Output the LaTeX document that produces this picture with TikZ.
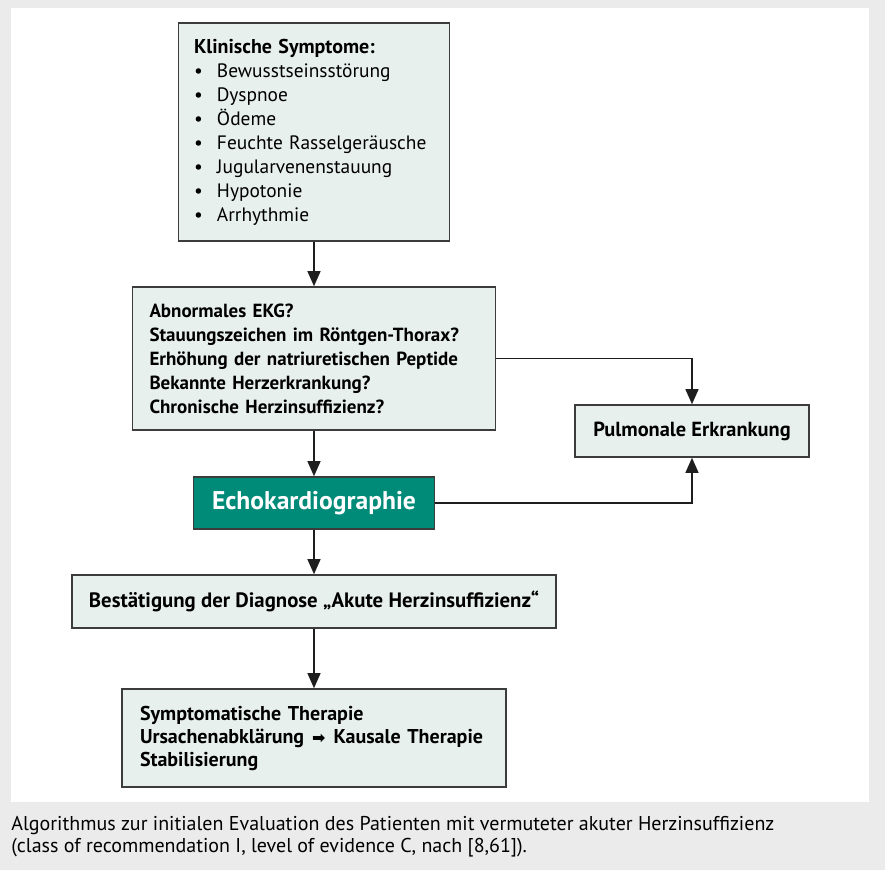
\documentclass[tikz,border=0pt]{standalone}
\usepackage{fontspec}
\setmainfont{PT Sans}
\newfontfamily\symfont{DejaVu Sans}
\usetikzlibrary{arrows.meta}
\definecolor{boxfill}{RGB}{232,240,237}
\definecolor{boxline}{RGB}{60,60,60}
\definecolor{arrowline}{RGB}{30,30,30}
\definecolor{echofill}{RGB}{0,138,120}
\definecolor{pagegray}{RGB}{235,235,235}
\newcommand\symbullet{\makebox[11.5pt][l]{•}}
\tikzset{
  infobox/.style={draw=boxline, line width=0.8pt, fill=boxfill, inner xsep=8.5pt, inner ysep=0pt,
    font=\fontsize{9.5}{12}\selectfont\bfseries},
  flowline/.style={draw=arrowline, line width=0.55pt, -{Triangle[length=7.5pt,width=6.5pt]}},
}

\begin{document}
\begin{tikzpicture}[x=0.5pt,y=-0.5pt]
 % page and white panel
 \fill[pagegray] (0,0) rectangle (885,870);
 \fill[white] (11,8) rectangle (869,802);
 \useasboundingbox (0,0) rectangle (885,870);

 % boxes
 \node[infobox, text width=120pt, inner xsep=7.75pt, minimum height=109pt, align=left] (sym) at (314,132)
   {{\fontsize{10}{12}\selectfont Klinische Symptome:}\\ \mdseries\fontsize{9.7}{12}\selectfont
    \symbullet Bewusstseinsstörung\\
    \symbullet Dyspnoe\\
    \symbullet Ödeme\\
    \symbullet Feuchte Rasselgeräusche\\
    \symbullet Jugularvenenstauung\\
    \symbullet Hypotonie\\
    \symbullet Arrhythmie};
 \node[infobox, text width=164.5pt, minimum height=71.5pt, align=left] (abn) at (314,358.5)
   {Abnormales EKG?\\
    Stauungszeichen im Röntgen-Thorax?\\
    Erhöhung der natriuretischen Peptide\\
    Bekannte Herzerkrankung?\\
    Chronische Herzinsuffizienz?};
 \node[infobox, minimum width=117pt, minimum height=26pt,
   font=\fontsize{10.2}{12}\selectfont\bfseries] (pul) at (692,431) {Pulmonale Erkrankung};
 \node[infobox, fill=echofill, text=white, minimum width=120.5pt, minimum height=26pt,
   font=\fontsize{12.8}{15}\selectfont\bfseries] (echo) at (314,503) {Echokardiographie};
 \node[infobox, minimum width=241.5pt, minimum height=26.5pt,
   font=\fontsize{10.4}{12}\selectfont\bfseries] (conf) at (314,601.5)
   {Bestätigung der Diagnose „Akute Herzinsuffizienz“};
 \node[infobox, inner xsep=9pt, text width=174pt, minimum height=49pt, align=left,
   font=\fontsize{10}{11.5}\selectfont\bfseries] (ther) at (314,738)
   {Symptomatische Therapie\\
    Ursachenabklärung\hspace{4pt}{\symfont\fontsize{8}{11.5}\selectfont ➡}\hspace{4pt}Kausale Therapie\\
    Stabilisierung};

 % connectors
 \draw[flowline] (sym) -- (abn);
 \draw[flowline] (abn) -- (echo);
 \draw[flowline] (abn.east) -| (pul.north);
 \draw[flowline] (echo.east) -| (pul.south);
 \draw[flowline] (echo) -- (conf);
 \draw[flowline] (conf) -- (ther);

 % caption
 \node[anchor=base west, inner sep=0pt, align=left, font=\fontsize{10}{11}\selectfont] (caption) at (11,853)
   {Algorithmus zur initialen Evaluation des Patienten mit vermuteter akuter Herzinsuffizienz\\
    (class of recommendation I, level of evidence C, nach [8,61]).};
\end{tikzpicture}
\end{document}
